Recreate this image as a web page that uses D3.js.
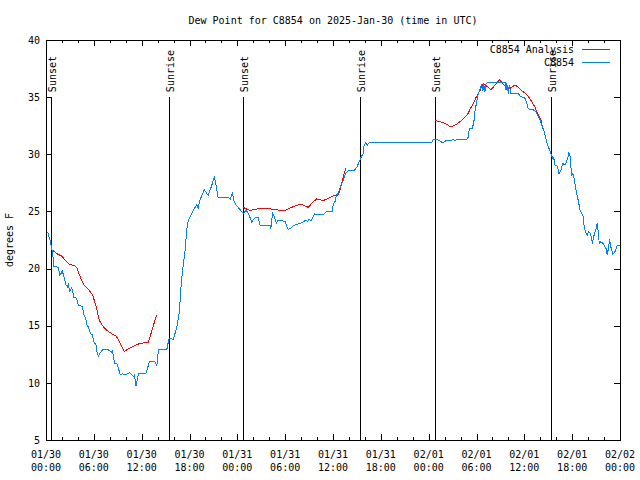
<!DOCTYPE html>
<html>
<head>
<meta charset="utf-8">
<script src="https://cdn.jsdelivr.net/npm/d3@7"></script>
<style>
  html, body { margin: 0; padding: 0; background: #fff; }
  svg { display: block; }
  text { font-family: "DejaVu Sans Mono", "Liberation Mono", monospace; font-size: 10px; fill: #000; }
</style>
</head>
<body>
<svg id="chart" width="640" height="480"></svg>
<script>
// ---- data (hours since 2025-01-30 00:00 UTC) ----
const titleText = "Dew Point for C8854 on 2025-Jan-30 (time in UTC)";
const yLabel = "degrees F";
const seriesNames = ["C8854 Analysis", "C8854"];

const obsHours = [0.2,0.5,0.7,0.84,1.0,1.55,1.75,2.05,2.2,2.5,2.7,2.8,3.0,3.2,3.3,3.5,3.85,4.05,4.55,4.77,5.0,5.1,5.3,5.6,5.8,6.0,6.3,6.35,6.56,6.77,7.1,7.8,8.0,8.3,8.35,8.45,8.65,8.95,9.15,9.3,9.6,9.9,10.3,10.5,10.75,11.0,11.1,11.3,11.45,11.6,12.55,12.85,12.95,13.65,13.9,14.1,15.15,15.35,15.45,15.97,16.3,16.5,16.7,16.8,17.0,17.2,17.45,17.65,17.85,18.2,18.5,18.9,19.1,19.3,19.5,19.85,20.0,20.35,20.8,21.1,21.3,21.6,22.9,23.1,23.4,23.6,23.8,24.3,24.75,25.1,25.4,25.8,26.0,26.3,26.6,26.85,27.9,28.1,28.2,28.3,28.45,28.65,28.9,29.05,29.55,30.0,30.2,30.4,30.8,31.15,31.65,32.1,32.3,32.6,32.8,33.0,33.25,33.55,33.65,33.95,34.65,34.9,35.2,35.9,36.05,36.25,36.4,36.7,37.0,37.3,37.5,37.7,38.0,38.7,39.0,39.3,39.5,39.8,39.9,40.1,40.3,40.5,48.4,48.6,49.0,49.2,49.8,50.2,50.5,50.8,51.1,51.3,51.6,52.8,53.0,53.1,53.5,53.7,53.8,54.0,54.2,54.45,54.65,54.8,54.9,55.05,55.2,55.5,57.2,57.6,57.7,57.8,58.0,58.1,58.3,59.25,59.45,60.1,60.3,60.5,60.8,61.1,61.35,61.55,61.95,62.2,62.5,62.8,63.1,63.4,63.6,63.7,63.85,64.15,64.35,64.55,64.8,65.1,65.3,65.5,65.6,65.8,65.9,66.0,66.15,66.35,66.55,66.75,67.0,67.2,67.4,67.5,67.75,67.9,68.05,68.3,68.55,68.7,69.0,69.15,69.25,69.4,69.6,69.9,70.25,70.4,70.5,70.7,70.85,71.1,71.4,71.65,72.0];
const obsDew = [23.2,22.5,21.8,21.3,20.2,20.1,19.4,19.8,19.4,18.6,18.4,18.6,18.0,18.3,18.2,17.5,17.4,16.8,16.7,15.9,15.6,15.1,14.9,14.3,14.2,13.6,13.3,12.8,12.35,12.6,12.9,12.9,12.8,12.65,12.9,12.2,11.7,11.65,11.1,10.7,10.8,10.7,10.8,10.9,10.7,10.55,10.7,9.7,10.25,10.85,10.85,11.55,11.85,11.85,11.5,12.9,12.9,13.6,13.9,13.8,14.6,15.2,16.1,17.0,19.0,20.2,21.6,23.4,24.25,24.7,25.1,25.6,25.3,26.0,26.3,26.9,26.75,26.4,27.3,28.0,27.45,26.2,26.2,26.05,26.6,25.85,25.6,25.2,24.8,25.1,24.8,24.1,24.25,24.5,24.5,23.8,23.8,23.8,23.5,24.2,24.8,24.5,24.0,24.2,24.2,24.1,23.7,23.4,23.6,23.8,23.9,24.0,24.1,24.25,24.1,24.3,24.2,24.55,24.8,24.7,24.7,24.8,25.0,25.0,25.7,25.85,26.35,26.7,27.3,27.75,28.2,28.4,28.6,28.6,28.9,29.35,29.7,30.1,30.8,31.0,30.8,31.0,31.05,31.3,31.3,31.25,31.0,31.2,31.25,31.2,31.3,31.2,31.3,31.3,31.55,32.3,32.3,33.0,33.75,34.5,35.2,35.75,36.15,35.5,36.2,35.5,36.2,36.3,36.25,36.25,35.6,36.2,35.3,36.05,35.35,35.3,35.1,34.9,34.45,34.0,33.9,33.9,33.8,33.6,33.0,32.55,31.95,31.1,30.5,29.95,29.55,29.7,29.05,28.95,28.3,28.5,29.2,29.05,29.35,29.8,30.15,29.65,28.2,28.3,28.2,27.45,26.6,26.0,25.1,24.8,24.55,23.65,23.1,22.9,23.2,23.1,22.2,22.8,23.5,24.0,23.35,22.2,22.35,22.2,21.75,21.2,21.6,22.55,21.9,21.25,21.5,22.05,22.05];

// analysis series; null marks a gap
const anaHours = [0.84,1.35,1.97,2.4,2.9,3.6,3.85,4.25,4.75,5.3,5.85,6.3,6.7,7.2,7.8,8.25,8.8,9.1,9.5,9.8,10.3,10.95,11.6,12.2,12.85,13.25,13.55,13.9,
  14.0,
  24.75,25.2,25.6,26.4,27.5,28.3,29.35,30.0,30.8,31.9,32.3,32.9,33.4,33.95,34.8,35.4,36.05,36.7,37.0,37.3,37.6,
  38.0,
  48.8,49.2,49.8,50.2,50.75,51.3,51.85,52.35,52.85,53.2,53.6,54.0,54.45,54.85,55.3,55.8,56.2,56.55,56.9,57.2,57.6,58.0,58.45,58.85,59.25,59.7,60.1,60.5,60.95,61.35,61.65,62.0,62.2];
const anaDew = [21.6,21.3,21.1,20.75,20.4,20.25,20.1,19.35,18.55,18.2,17.7,16.65,15.45,14.9,14.5,14.3,14.1,13.75,13.2,12.75,12.95,13.2,13.4,13.5,13.55,14.5,15.2,15.95,
  null,
  25.35,25.2,25.1,25.2,25.3,25.2,25.1,25.1,25.35,25.65,25.55,25.35,25.75,26.1,25.95,26.15,26.35,26.45,27.2,28.05,28.8,
  null,
  33.0,32.85,32.8,32.65,32.4,32.55,32.8,33.1,33.45,33.95,34.45,35.05,35.6,36.2,35.95,35.65,35.95,36.25,36.5,36.25,35.95,35.65,35.9,36.05,35.85,35.55,35.35,35.05,34.6,34.1,33.6,33.15,32.75];

const sunHours = [0.67, 15.47, 24.73, 39.47, 48.8, 63.47];
const sunLabels = ["Sunset", "Sunrise", "Sunset", "Sunrise", "Sunset", "Sunrise"];

const xMajorHours = [0,6,12,18,24,30,36,42,48,54,60,66,72];
const xTickDates = ["01/30","01/30","01/30","01/30","01/31","01/31","01/31","01/31","02/01","02/01","02/01","02/01","02/02"];
const xTickTimes = ["00:00","06:00","12:00","18:00","00:00","06:00","12:00","18:00","00:00","06:00","12:00","18:00","00:00"];
const yTicks = [5,10,15,20,25,30,35,40];

// ---- layout ----
const L = 46, R = 620, T = 40, B = 440;
const redColor = "#ff0000", blueColor = "#0080ff";

const svg = d3.select("#chart");
const x = d3.scaleLinear().domain([0, 72]).range([L, R]);
const y = d3.scaleLinear().domain([5, 40]).range([B, T]);

// title
svg.append("text").attr("x", (L + R) / 2).attr("y", 24)
  .attr("text-anchor", "middle").text(titleText);

// y label
svg.append("text").attr("transform", `translate(13,${(T + B) / 2}) rotate(-90)`)
  .attr("text-anchor", "middle").text(yLabel);

// axes ticks (inward, mirrored)
const minorHours = d3.range(0, 73, 2).filter(h => h % 6 !== 0);
function styleAxis(g) { g.select(".domain").remove(); g.selectAll("line").attr("stroke", "#000").attr("shape-rendering", "crispEdges"); g.selectAll("text").remove(); }

svg.append("g").attr("transform", `translate(0,${B})`)
  .call(d3.axisBottom(x).tickValues(xMajorHours).tickSize(-6)).call(styleAxis);
svg.append("g").attr("transform", `translate(0,${B})`)
  .call(d3.axisBottom(x).tickValues(minorHours).tickSize(-3)).call(styleAxis);
svg.append("g").attr("transform", `translate(0,${T})`)
  .call(d3.axisTop(x).tickValues(xMajorHours).tickSize(-6)).call(styleAxis);
svg.append("g").attr("transform", `translate(0,${T})`)
  .call(d3.axisTop(x).tickValues(minorHours).tickSize(-3)).call(styleAxis);

const gy = svg.append("g").attr("transform", `translate(${L},0)`)
  .call(d3.axisLeft(y).tickValues(yTicks).tickSize(-6).tickPadding(6).tickFormat(d3.format("d")));
gy.select(".domain").remove();
gy.selectAll("line").attr("stroke", "#000").attr("shape-rendering", "crispEdges");
gy.selectAll("text").style("fill", "#000");
gy.attr("font-family", null).attr("font-size", null);

svg.append("g").attr("transform", `translate(${R},0)`)
  .call(d3.axisRight(y).tickValues(yTicks).tickSize(-6)).call(styleAxis);

// x tick labels (two lines)
const xl = svg.append("g");
xMajorHours.forEach((h, i) => {
  const t = xl.append("text").attr("text-anchor", "middle");
  t.append("tspan").attr("x", x(h)).attr("y", 458).text(xTickDates[i]);
  t.append("tspan").attr("x", x(h)).attr("y", 471).text(xTickTimes[i]);
});

// border
svg.append("rect").attr("x", L).attr("y", T).attr("width", R - L).attr("height", B - T)
  .attr("fill", "none").attr("stroke", "#000").attr("shape-rendering", "crispEdges");

// sun lines
const sg = svg.append("g");
sunHours.forEach((h, i) => {
  sg.append("line").attr("x1", x(h)).attr("x2", x(h)).attr("y1", y(35)).attr("y2", B)
    .attr("stroke", "#000").attr("shape-rendering", "crispEdges");
  sg.append("text").attr("transform", `translate(${x(h) + 4.5},${y(35) - 5}) rotate(-90)`)
    .attr("text-anchor", "start").text(sunLabels[i]);
});

// data lines
const obsData = obsHours.map((h, i) => ({ h, v: obsDew[i] }));
const anaData = anaHours.map((h, i) => ({ h, v: anaDew[i] }));
const line = d3.line().defined(d => d.v !== null).x(d => x(d.h)).y(d => y(d.v));

svg.append("path").datum(anaData).attr("d", line)
  .attr("fill", "none").attr("stroke", redColor).attr("stroke-width", 1)
  .attr("shape-rendering", "crispEdges");
svg.append("path").datum(obsData).attr("d", line)
  .attr("fill", "none").attr("stroke", blueColor).attr("stroke-width", 1)
  .attr("shape-rendering", "crispEdges");

// legend
const legendY = [49.5, 62.5];
const legColors = [redColor, blueColor];
seriesNames.forEach((name, i) => {
  svg.append("text").attr("x", 574).attr("y", legendY[i] + 3.5).attr("text-anchor", "end").text(name);
  svg.append("line").attr("x1", 582).attr("x2", 610).attr("y1", legendY[i]).attr("y2", legendY[i])
    .attr("stroke", legColors[i]).attr("shape-rendering", "crispEdges");
});
</script>
</body>
</html>
